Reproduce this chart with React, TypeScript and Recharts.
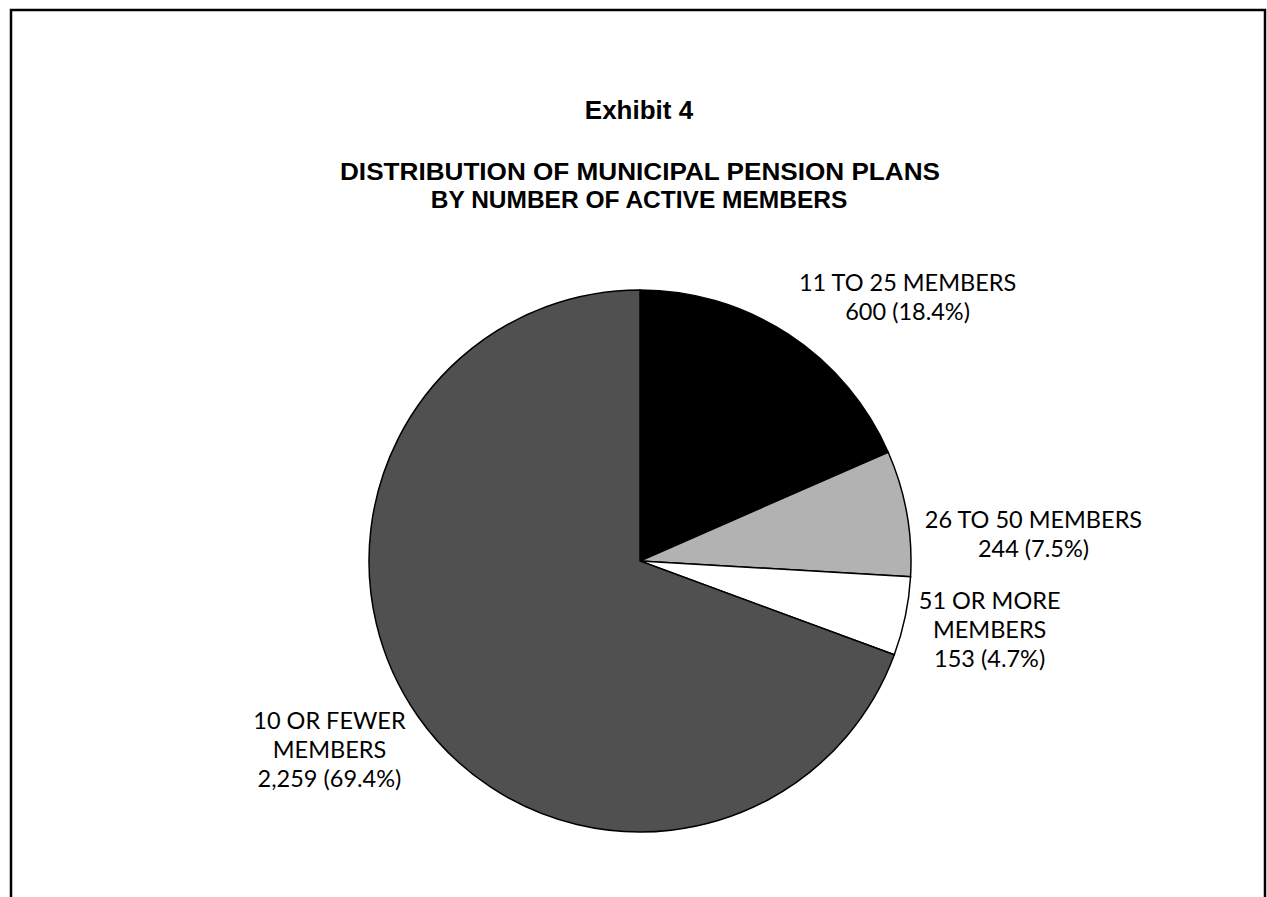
import React from 'react';
import { Cell, Pie, PieChart } from 'recharts';

// plan size groups, clockwise from 12 o'clock
const categories = ['11 TO 25 MEMBERS', '26 TO 50 MEMBERS', '51 OR MORE MEMBERS', '10 OR FEWER MEMBERS'];
const labelLines = [
  ['11 TO 25 MEMBERS'],
  ['26 TO 50 MEMBERS'],
  ['51 OR MORE', 'MEMBERS'],
  ['10 OR FEWER', 'MEMBERS'],
];
const planCounts = [600, 244, 153, 2259];
const sliceColors = ['#000000', '#b2b2b2', '#ffffff', '#505050'];

const W = 1267;
const H = 897;
const CX = 635;
const CY = 556;
const R = 271;
const LINE = 29;
const LABEL_FONT = 'Lato, "Open Sans", sans-serif';
// Excel-style "best fit" shifts so labels clear each other
const labelNudge = [
  { dx: 55, dy: -3 },
  { dx: 11, dy: 28 },
  { dx: 8, dy: 1 },
  { dx: -8, dy: 1 },
];

const total = planCounts.reduce((a, b) => a + b, 0);
const data = categories.map((name, i) => ({
  name,
  value: planCounts[i],
  lines: [...labelLines[i], `${planCounts[i].toLocaleString('en-US')} (${((planCounts[i] / total) * 100).toFixed(1)}%)`],
}));

const RAD = Math.PI / 180;

function SliceLabel(props: any) {
  const { cx, cy, midAngle, outerRadius, index } = props;
  const lines: string[] = data[index].lines;
  const cos = Math.cos(midAngle * RAD);
  const sin = Math.sin(midAngle * RAD);
  const w = Math.max(...lines.map((l) => l.length)) * 13.2;
  const h = lines.length * LINE;
  const ax = cx + (outerRadius + 12) * cos;
  const ay = cy - (outerRadius + 12) * sin;
  const x = ax + (cos * w) / 2 + labelNudge[index].dx;
  const y = ay - (sin * h) / 2 + labelNudge[index].dy;
  const top = y - ((lines.length - 1) * LINE) / 2;
  return (
    <text
      x={x}
      y={top}
      textAnchor="middle"
      dominantBaseline="central"
      fill="#000"
      style={{ fontFamily: LABEL_FONT, fontSize: 23.5 }}
    >
      {lines.map((l, i) => (
        <tspan key={i} x={x} y={top + i * LINE}>
          {l}
        </tspan>
      ))}
    </text>
  );
}

export default function App() {
  return (
    <div style={{ position: 'absolute', left: 0, top: 0, width: W, height: H, background: '#fff', overflow: 'hidden' }}>
      <svg width={W} height={H} style={{ position: 'absolute', left: 0, top: 0 }}>
        <path d={`M11,${H + 5} L11,10 L1265,10 L1265,${H + 5}`} fill="none" stroke="#000" strokeWidth={2.5} />
        <g fontFamily='"Liberation Sans", Arial, sans-serif' fontWeight="bold" textAnchor="middle" fill="#000">
          <text x={639} y={119} fontSize={26}>
            Exhibit 4
          </text>
          <text x={640} y={180} fontSize={24.5} textLength={600} lengthAdjust="spacingAndGlyphs">
            DISTRIBUTION OF MUNICIPAL PENSION PLANS
          </text>
          <text x={639} y={207.5} fontSize={24.5}>
            BY NUMBER OF ACTIVE MEMBERS
          </text>
        </g>
      </svg>
      <div style={{ position: 'absolute', left: 0, top: 0 }}>
        <PieChart width={W} height={H}>
          <Pie
            data={data}
            dataKey="value"
            nameKey="name"
            cx={CX}
            cy={CY}
            outerRadius={R}
            startAngle={90}
            endAngle={-270}
            stroke="#000"
            strokeWidth={1.5}
            label={SliceLabel}
            labelLine={false}
            isAnimationActive={false}
          >
            {data.map((d, i) => (
              <Cell key={d.name} fill={sliceColors[i]} />
            ))}
          </Pie>
        </PieChart>
      </div>
    </div>
  );
}
